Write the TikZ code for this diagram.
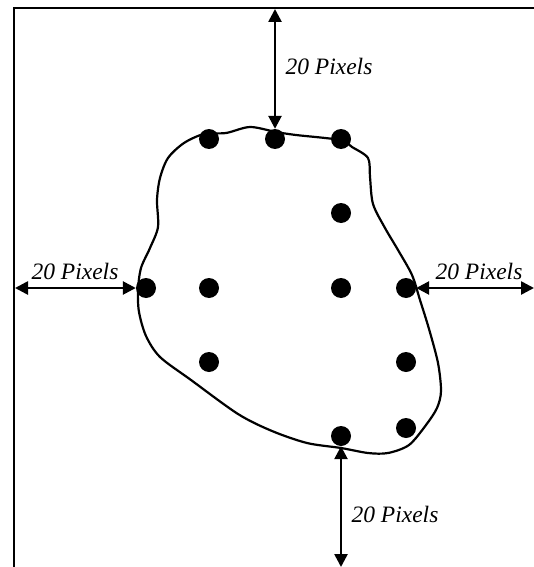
\documentclass[tikz,border=0pt]{standalone}
\usepackage{fontspec}
\setmainfont{Liberation Serif}
\usetikzlibrary{arrows.meta}
\begin{document}
\begin{tikzpicture}[x=1pt,y=-1pt,
  dot/.style={circle,fill=black,inner sep=0pt,minimum size=20pt},
  dim/.style={line width=2.6pt,{Triangle[length=13pt,width=13pt]}-{Triangle[length=13pt,width=13pt]}},
  lab/.style={font=\fontsize{23.5}{26}\selectfont\itshape,inner sep=0pt},
  frame/.style={line width=2.8pt},
  blob/.style={line width=2.2pt}]
\useasboundingbox (0,0) rectangle (534,567);
% frame
\coordinate (fbl) at (14,567);
\coordinate (ftl) at (14,8);
\coordinate (ftr) at (534,8);
\draw[frame] (fbl) -- (ftl) -- (ftr);
% blob outline
\draw[blob] plot[smooth cycle,tension=0.5] coordinates {
 (204,134) (226,133) (250,127) (276,132) (296,135) (340,140) (352,147) (368,158)
 (370,177) (373,204) (385,228) (398,250) (412,275) (420,300) (429,329) (438,363)
 (441,391) (437,408) (426,425) (409,445) (388,453) (368,453) (341,448) (307,443)
 (272,431) (238,414) (191,380) (160,357) (146,336) (139,312) (138,290) (141,268)
 (150,248) (158,227) (157,200) (160,178) (168,158) (184,143)};
% dots
\node[dot] (d1) at (209,139) {};
\node[dot] (d2) at (275,139) {};
\node[dot] (d3) at (341,139) {};
\node[dot] (d4) at (341,213) {};
\node[dot] (d5) at (146,288) {};
\node[dot] (d6) at (209,288) {};
\node[dot] (d7) at (341,288) {};
\node[dot] (d8) at (406,288) {};
\node[dot] (d9) at (209,362) {};
\node[dot] (d10) at (406,362) {};
\node[dot] (d11) at (406,428) {};
\node[dot] (d12) at (341,436) {};
% dimension arrows
\coordinate (ctop) at (275,9);
\coordinate (cleft) at (15,288);
\coordinate (cright) at (534,288);
\coordinate (cbot) at (341,567);
\draw[dim] (ctop) -- (d2.north);
\draw[dim] (cleft) -- (d5.west);
\draw[dim] (d8.east) -- (cright);
\draw[dim] (d12.south) -- (cbot);
% labels
\node[lab] (ltop) at (329,66) {20 Pixels};
\node[lab] (lleft) at (75,271) {20 Pixels};
\node[lab] (lright) at (479,271) {20 Pixels};
\node[lab] (lbot) at (395,514) {20 Pixels};
\end{tikzpicture}
\end{document}
